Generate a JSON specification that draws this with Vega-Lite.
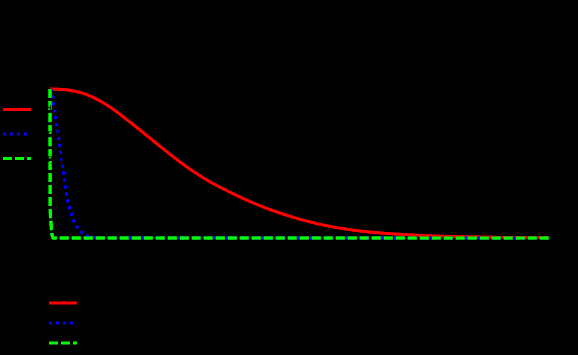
{
  "$schema": "https://vega.github.io/schema/vega-lite/v6.json",
  "width": 500,
  "height": 149,
  "autosize": {"type": "none"},
  "padding": {"left": 50, "top": 89, "right": 28, "bottom": 117},
  "background": "black",
  "config": {
    "view": {"stroke": null},
    "legend": {"labelColor": "black", "titleColor": "black", "padding": 0, "symbolType": "stroke", "symbolSize": 784, "title": null}
  },
  "data": {
    "values": [
      {"t": 0, "value": 1.0, "series": "wide"},
      {"t": 0.25, "value": 0.997, "series": "wide"},
      {"t": 0.5, "value": 0.985, "series": "wide"},
      {"t": 0.75, "value": 0.96, "series": "wide"},
      {"t": 1.0, "value": 0.92, "series": "wide"},
      {"t": 1.25, "value": 0.867, "series": "wide"},
      {"t": 1.5, "value": 0.804, "series": "wide"},
      {"t": 1.75, "value": 0.738, "series": "wide"},
      {"t": 2.0, "value": 0.67, "series": "wide"},
      {"t": 2.25, "value": 0.602, "series": "wide"},
      {"t": 2.5, "value": 0.536, "series": "wide"},
      {"t": 2.75, "value": 0.474, "series": "wide"},
      {"t": 3.0, "value": 0.418, "series": "wide"},
      {"t": 3.25, "value": 0.368, "series": "wide"},
      {"t": 3.5, "value": 0.324, "series": "wide"},
      {"t": 3.75, "value": 0.283, "series": "wide"},
      {"t": 4.0, "value": 0.245, "series": "wide"},
      {"t": 4.25, "value": 0.21, "series": "wide"},
      {"t": 4.5, "value": 0.179, "series": "wide"},
      {"t": 4.75, "value": 0.151, "series": "wide"},
      {"t": 5.0, "value": 0.126, "series": "wide"},
      {"t": 5.25, "value": 0.104, "series": "wide"},
      {"t": 5.5, "value": 0.085, "series": "wide"},
      {"t": 5.75, "value": 0.069, "series": "wide"},
      {"t": 6.0, "value": 0.056, "series": "wide"},
      {"t": 6.25, "value": 0.045, "series": "wide"},
      {"t": 6.5, "value": 0.037, "series": "wide"},
      {"t": 6.75, "value": 0.0305, "series": "wide"},
      {"t": 7.0, "value": 0.025, "series": "wide"},
      {"t": 7.5, "value": 0.016, "series": "wide"},
      {"t": 8.0, "value": 0.0105, "series": "wide"},
      {"t": 8.5, "value": 0.007, "series": "wide"},
      {"t": 9.0, "value": 0.0045, "series": "wide"},
      {"t": 9.5, "value": 0.003, "series": "wide"},
      {"t": 10, "value": 0.002, "series": "wide"},
      {"t": 0, "value": 1.0, "series": "narrow"},
      {"t": 0.02, "value": 0.992, "series": "narrow"},
      {"t": 0.046, "value": 0.966, "series": "narrow"},
      {"t": 0.066, "value": 0.919, "series": "narrow"},
      {"t": 0.086, "value": 0.872, "series": "narrow"},
      {"t": 0.106, "value": 0.825, "series": "narrow"},
      {"t": 0.126, "value": 0.778, "series": "narrow"},
      {"t": 0.146, "value": 0.731, "series": "narrow"},
      {"t": 0.166, "value": 0.684, "series": "narrow"},
      {"t": 0.186, "value": 0.637, "series": "narrow"},
      {"t": 0.206, "value": 0.59, "series": "narrow"},
      {"t": 0.226, "value": 0.543, "series": "narrow"},
      {"t": 0.246, "value": 0.496, "series": "narrow"},
      {"t": 0.266, "value": 0.449, "series": "narrow"},
      {"t": 0.286, "value": 0.401, "series": "narrow"},
      {"t": 0.306, "value": 0.354, "series": "narrow"},
      {"t": 0.326, "value": 0.307, "series": "narrow"},
      {"t": 0.346, "value": 0.262, "series": "narrow"},
      {"t": 0.386, "value": 0.21, "series": "narrow"},
      {"t": 0.426, "value": 0.163, "series": "narrow"},
      {"t": 0.466, "value": 0.121, "series": "narrow"},
      {"t": 0.506, "value": 0.093, "series": "narrow"},
      {"t": 0.546, "value": 0.072, "series": "narrow"},
      {"t": 0.596, "value": 0.052, "series": "narrow"},
      {"t": 0.646, "value": 0.036, "series": "narrow"},
      {"t": 0.726, "value": 0.018, "series": "narrow"},
      {"t": 0.846, "value": 0.005, "series": "narrow"},
      {"t": 1.0, "value": 0.001, "series": "narrow"},
      {"t": 10, "value": 0, "series": "narrow"},
      {"t": 0, "value": 1.0, "series": "very narrow"},
      {"t": 0.004, "value": 0.19, "series": "very narrow"},
      {"t": 0.02, "value": 0.1, "series": "very narrow"},
      {"t": 0.04, "value": 0.024, "series": "very narrow"},
      {"t": 0.06, "value": 0, "series": "very narrow"},
      {"t": 10, "value": 0, "series": "very narrow"}
    ]
  },
  "encoding": {
    "x": {"field": "t", "type": "quantitative", "scale": {"domain": [0, 10], "nice": false, "zero": false}, "axis": null},
    "y": {"field": "value", "type": "quantitative", "scale": {"domain": [0, 1], "nice": false}, "axis": null}
  },
  "layer": [
    {
      "mark": {"type": "line", "interpolate": "monotone", "strokeCap": "butt"},
      "encoding": {
        "color": {"field": "series", "type": "nominal", "scale": {"domain": ["wide", "narrow", "very narrow"], "range": ["#ff0000", "#0000ff", "#00ff00"]},
          "legend": {"orient": "none", "legendX": -48.5, "legendY": 5, "rowPadding": 2.5}},
        "strokeDash": {"field": "series", "type": "nominal", "scale": {"domain": ["wide", "narrow", "very narrow"], "range": [[1, 0], [3, 4], [9, 3]]},
          "legend": {"orient": "none", "legendX": -48.5, "legendY": 5, "rowPadding": 2.5}},
        "strokeWidth": {"field": "series", "type": "ordinal", "scale": {"domain": ["wide", "narrow", "very narrow"], "range": [2.8, 3, 3.6]},
          "legend": {"orient": "none", "legendX": -48.5, "legendY": 5, "rowPadding": 2.5}}
      }
    },
    {
      "mark": {"type": "line", "interpolate": "monotone", "strokeCap": "butt"},
      "encoding": {
        "color": {"field": "series", "type": "nominal", "scale": {"domain": ["wide", "narrow", "very narrow"], "range": ["#ff0000", "#0000ff", "#00ff00"]},
          "legend": {"orient": "none", "legendX": -2.5, "legendY": 204, "rowPadding": 0, "clipHeight": 20}},
        "strokeDash": {"field": "series", "type": "nominal", "scale": {"domain": ["wide", "narrow", "very narrow"], "range": [[1, 0], [3, 4], [9, 3]]},
          "legend": {"orient": "none", "legendX": -2.5, "legendY": 204, "rowPadding": 0, "clipHeight": 20}},
        "strokeWidth": {"field": "series", "type": "ordinal", "scale": {"domain": ["wide", "narrow", "very narrow"], "range": [2.8, 3, 3.6]},
          "legend": {"orient": "none", "legendX": -2.5, "legendY": 204, "rowPadding": 0, "clipHeight": 20}}
      }
    }
  ],
  "resolve": {
    "scale": {"color": "independent", "strokeDash": "independent", "strokeWidth": "independent"},
    "legend": {"color": "independent", "strokeDash": "independent", "strokeWidth": "independent"}
  }
}
